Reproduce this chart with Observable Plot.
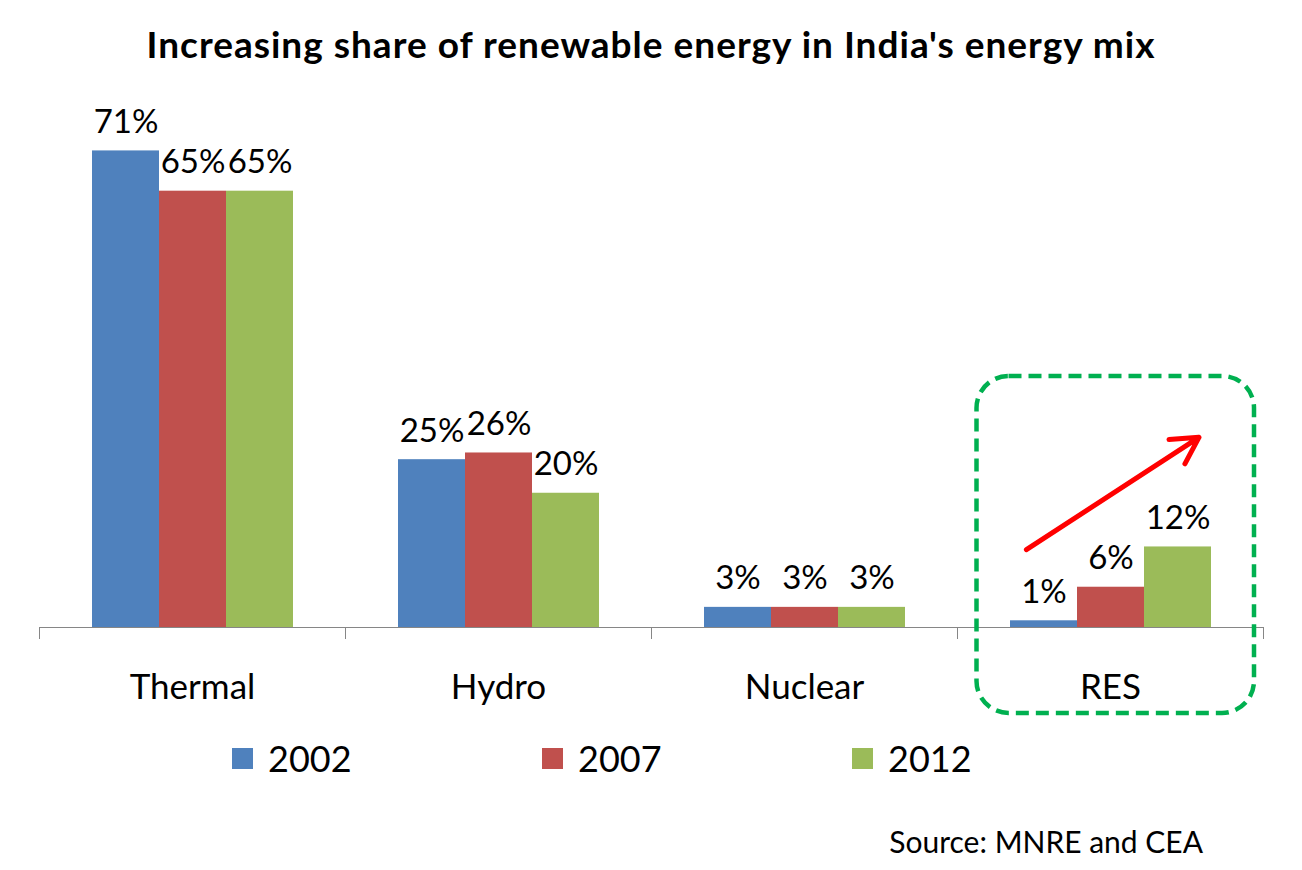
<!DOCTYPE html>
<html>
<head>
<meta charset="utf-8">
<script src="https://cdn.jsdelivr.net/npm/d3@7"></script>
<script src="https://cdn.jsdelivr.net/npm/@observablehq/plot@0.6"></script>
<style>
  html, body { margin: 0; padding: 0; background: #fff; }
  #wrap { position: relative; width: 1302px; height: 870px; font-family: Lato, "Noto Sans", sans-serif; color: #000; overflow: hidden; }
  #title { position: absolute; left: 0; width: 1302px; top: 25px; text-align: center; font-weight: 700; font-size: 37px; line-height: 37px; letter-spacing: 1px; }
  #chart { position: absolute; left: 0; top: 90px; }
  .leg { position: absolute; top: 740px; font-size: 36px; line-height: 36px; display: flex; align-items: center; }
  .sw { width: 21px; height: 21px; margin-right: 15px; }
  #source { position: absolute; right: 99px; top: 826px; font-size: 30px; line-height: 30px; }
</style>
</head>
<body>
<div id="wrap">
  <div id="title">Increasing share of renewable energy in India's energy mix</div>
  <div id="chart"></div>
  <div id="legend"></div>
  <div id="source">Source: MNRE and CEA</div>
</div>
<script>
// ---- data ----
const categories = ["Thermal", "Hydro", "Nuclear", "RES"];
const years = ["2002", "2007", "2012"];
const colors = ["#4f81bd", "#c0504d", "#9bbb59"];
const share2002 = [71, 25, 3, 1];
const share2007 = [65, 26, 3, 6];
const share2012 = [65, 20, 3, 12];
// highlight box around RES (in % units) and the trend arrow
const highlightCategory = ["RES"];
const highlightTop = [37.4];
const highlightBottom = [-12.8];
const arrowFrom = ["2002"];
const arrowTo = ["2012"];
const arrowStart = [13.3];
const arrowEnd = [26.3];

const series = [share2002, share2007, share2012];
const rows = [];
categories.forEach((c, i) => years.forEach((y, j) => rows.push({category: c, year: y, value: series[j][i]})));
const box = highlightCategory.map((c, i) => ({category: c, top: highlightTop[i], bottom: highlightBottom[i]}));
const arrows = highlightCategory.map((c, i) => ({category: c, from: arrowFrom[i], to: arrowTo[i], y1: arrowStart[i], y2: arrowEnd[i]}));

const plot = Plot.plot({
  width: 1302,
  height: 640,
  marginTop: 0,
  marginBottom: 103,
  marginLeft: 38,
  marginRight: 38,
  style: {fontFamily: "Lato, 'Noto Sans', sans-serif", background: "#fff", overflow: "visible"},
  fx: {domain: categories, padding: 0},
  x: {domain: years, paddingInner: 0, paddingOuter: 0.765, axis: null},
  y: {domain: [0, 80], axis: null},
  color: {domain: years, range: colors},
  marks: [
    Plot.barY(rows, {fx: "category", x: "year", y: "value", fill: "year", inset: 0}),
    Plot.ruleY([0], {stroke: "#868686", strokeWidth: 1}),
    Plot.frame({anchor: "left", insetTop: 537, insetBottom: -11, stroke: "#868686"}),
    Plot.frame({anchor: "right", insetTop: 537, insetBottom: -11, stroke: "#868686"}),
    Plot.text(rows, {fx: "category", x: "year", y: "value", text: d => d.value + "%", dy: -18, lineAnchor: "bottom", fontSize: 33, fill: "#000"}),
    Plot.axisFx({anchor: "bottom", tickSize: 0, tickPadding: 47, fontSize: 35, label: null, fill: "#000"}),
    Plot.rect(box, {fx: "category", y1: "top", y2: "bottom", insetLeft: 19.5, insetRight: 9, rx: 32, fill: "none", stroke: "#00b050", strokeWidth: 4.5, strokeDasharray: "13,7"}),
    Plot.arrow(arrows, {fx: "category", x1: "from", x2: "to", y1: "y1", y2: "y2", insetStart: -21, insetEnd: -25, stroke: "#ff0000", strokeWidth: 5, headLength: 9, headAngle: 58})
  ]
});
document.getElementById("chart").appendChild(plot);

// legend
const legend = document.getElementById("legend");
const legX = [232, 542, 852];
years.forEach((y, i) => {
  const d = document.createElement("div");
  d.className = "leg";
  d.style.left = legX[i] + "px";
  d.innerHTML = `<div class="sw" style="background:${colors[i]}"></div><span>${y}</span>`;
  legend.appendChild(d);
});
</script>
</body>
</html>
